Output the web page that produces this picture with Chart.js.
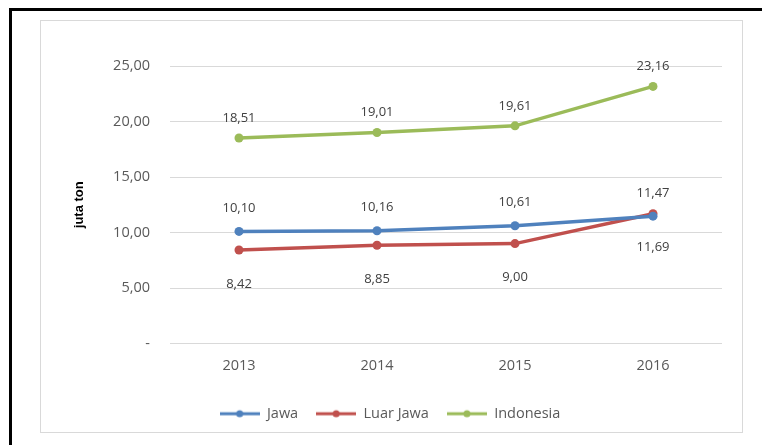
<!DOCTYPE html>
<html>
<head>
<meta charset="utf-8">
<script src="https://cdn.jsdelivr.net/npm/chart.js@4"></script>
<style>
  html, body { margin: 0; padding: 0; background: #fff; }
  body { width: 762px; height: 445px; position: relative; overflow: hidden; }
  #outer { position: absolute; left: 9px; top: 8px; width: 780px; height: 460px; border: 3px solid #000; }
  #inner { position: absolute; left: 40px; top: 20px; width: 701px; height: 411px; border: 1px solid #d9d9d9; }
  #wrap { position: absolute; left: 0; top: 0; width: 762px; height: 445px; }
</style>
</head>
<body>
<div id="outer"></div>
<div id="inner"></div>
<div id="wrap"><canvas id="chartcanvas" width="762" height="445"></canvas></div>
<script>
const years = ['2013', '2014', '2015', '2016'];
const jawa = [10.10, 10.16, 10.61, 11.47];
const luarJawa = [8.42, 8.85, 9.00, 11.69];
const indonesia = [18.51, 19.01, 19.61, 23.16];
const yTicks = [0, 5, 10, 15, 20, 25];

const fontFam = "'Open Sans', 'Noto Sans', sans-serif";
const textColor = '#595959';

function fmt(v){
  if (v === 0) return '-';
  return v.toFixed(2).replace('.', ',');
}

// legend marker: line with a dot in the middle
function marker(color){
  const c = document.createElement('canvas');
  c.width = 40; c.height = 10;
  const g = c.getContext('2d');
  g.strokeStyle = color;
  g.lineWidth = 3;
  g.beginPath(); g.moveTo(0, 5); g.lineTo(40, 5); g.stroke();
  g.fillStyle = color;
  g.beginPath(); g.arc(20, 5, 3.5, 0, Math.PI * 2); g.fill();
  return c;
}

// value labels: offset in px (negative = above)
const labelOffsets = [-23, 34, -20];

const valueLabels = {
  id: 'valueLabels',
  afterDatasetsDraw(chart){
    const c = chart.ctx;
    c.save();
    c.font = '13px ' + fontFam;
    c.fillStyle = '#404040';
    c.textAlign = 'center';
    c.textBaseline = 'middle';
    chart.data.datasets.forEach((ds, i) => {
      const meta = chart.getDatasetMeta(i);
      meta.data.forEach((pt, j) => {
        c.fillText(fmt(ds.data[j]), pt.x, pt.y + labelOffsets[i]);
      });
    });
    c.restore();
  }
};

const colors = ['#4f81bd', '#c0504d', '#9bbb59'];

const ctx = document.getElementById('chartcanvas').getContext('2d');

const config = {
  type: 'line',
  data: {
    labels: years,
    datasets: [
      { label: 'Jawa', data: jawa, borderColor: colors[0], backgroundColor: colors[0] },
      { label: 'Luar Jawa', data: luarJawa, borderColor: colors[1], backgroundColor: colors[1] },
      { label: 'Indonesia', data: indonesia, borderColor: colors[2], backgroundColor: colors[2] }
    ]
  },
  options: {
    responsive: false,
    animation: false,
    layout: { padding: { left: 58, right: 40, top: 66, bottom: 14 } },
    elements: {
      line: { borderWidth: 3.5, tension: 0 },
      point: { radius: 4.5, pointStyle: 'circle', borderWidth: 0 }
    },
    scales: {
      x: {
        offset: true,
        grid: { display: false, drawTicks: false },
        border: { display: false },
        ticks: { color: textColor, font: { family: fontFam, size: 14.5 }, padding: 14 },
        afterFit(scale){ scale.height = 45; }
      },
      y: {
        min: 0,
        max: 25,
        afterBuildTicks(scale){ scale.ticks = yTicks.map(v => ({ value: v })); },
        grid: { color: '#d9d9d9', drawTicks: false },
        border: { display: false },
        ticks: { color: textColor, font: { family: fontFam, size: 14.5 }, padding: 20, callback: v => fmt(v) },
        title: { display: true, text: 'juta ton', color: '#000', font: { family: "'Liberation Sans Narrow', 'Liberation Sans', sans-serif", size: 13, weight: 'bold' }, padding: { top: 14, bottom: 0 } },
        afterFit(scale){ scale.width = 112; }
      }
    },
    plugins: {
      legend: {
        position: 'bottom',
        labels: {
          usePointStyle: true,
          pointStyleWidth: 40,
          color: textColor,
          font: { family: fontFam, size: 14.5 },
          padding: 18,
          generateLabels(chart){
            return Chart.defaults.plugins.legend.labels.generateLabels(chart).map((item, i) => {
              item.pointStyle = marker(colors[i]);
              return item;
            });
          }
        }
      },
      tooltip: { enabled: false }
    }
  },
  plugins: [valueLabels]
};

const chart = new Chart(ctx, config);
</script>
</body>
</html>
